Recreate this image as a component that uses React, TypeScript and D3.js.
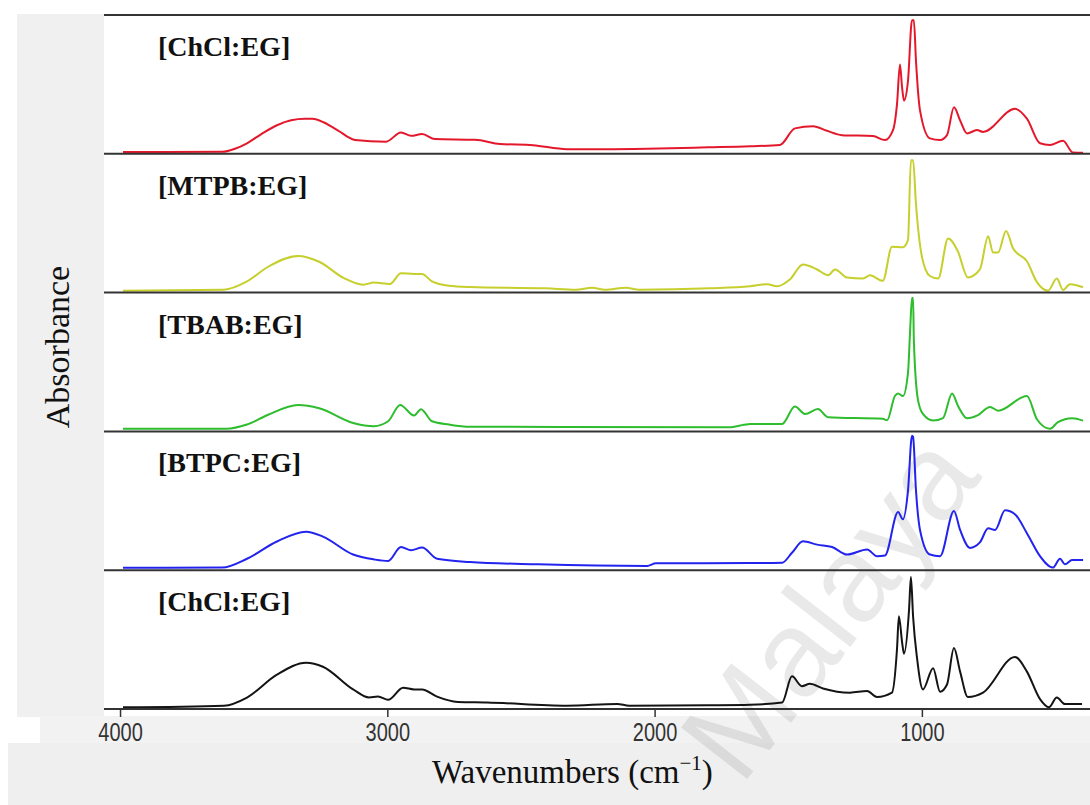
import { useEffect, useRef } from "react";
import * as d3 from "d3";

const labels = ["[ChCl:EG]", "[MTPB:EG]", "[TBAB:EG]", "[BTPC:EG]", "[ChCl:EG]"];
const colors = ["#e3182b", "#c6cf2c", "#2dbd2d", "#2323ee", "#141414"];
const tickValues = [4000, 3000, 2000, 1000];

// [wavenumber, relative absorbance]
const chclTop = [
  [3989, 0.005], [3618, 0.007], [3570, 0.03], [3525, 0.07], [3470, 0.14], [3413, 0.203], [3360, 0.24],
  [3308, 0.251], [3280, 0.25], [3241, 0.227], [3210, 0.195], [3177, 0.155], [3150, 0.12], [3121, 0.094],
  [3005, 0.082], [2949, 0.149], [2911, 0.125], [2870, 0.138], [2822, 0.101], [2672, 0.096], [2578, 0.065],
  [2455, 0.056], [2328, 0.027], [2186, 0.027], [2028, 0.03], [1800, 0.04], [1643, 0.048], [1531, 0.058],
  [1475, 0.18], [1407, 0.196], [1355, 0.162], [1299, 0.13], [1183, 0.123], [1138, 0.094], [1108, 0.167],
  [1093, 0.36], [1082, 0.65], [1074, 0.48], [1067, 0.384], [1052, 0.529], [1037, 0.976], [1030, 0.976],
  [1022, 0.674], [1007, 0.312], [970, 0.106], [932, 0.094], [906, 0.13], [880, 0.335], [857, 0.239],
  [831, 0.143], [794, 0.167], [771, 0.154], [652, 0.324], [607, 0.251], [558, 0.07], [521, 0.058],
  [472, 0.089], [435, 0.002], [397, 0],
];

const mtpb = [
  [3989, 0.007], [3611, 0.014], [3525, 0.075], [3446, 0.183], [3334, 0.263], [3255, 0.22], [3162, 0.099],
  [3091, 0.051], [3050, 0.067], [2990, 0.056], [2949, 0.135], [2900, 0.13], [2870, 0.13], [2833, 0.075],
  [2769, 0.043], [2691, 0.034], [2406, 0.024], [2294, 0.014], [2234, 0.029], [2186, 0.014], [2107, 0.029],
  [2058, 0.014], [1793, 0.024], [1643, 0.039], [1579, 0.055], [1542, 0.039], [1493, 0.091], [1445, 0.2],
  [1392, 0.163], [1351, 0.12], [1325, 0.163], [1280, 0.104], [1220, 0.096], [1194, 0.12], [1146, 0.079],
  [1112, 0.331], [1071, 0.327], [1052, 0.379], [1041, 0.967], [1033, 0.967], [1022, 0.643], [1000, 0.259],
  [970, 0.115], [939, 0.096], [902, 0.391], [865, 0.295], [828, 0.104], [783, 0.163], [752, 0.408],
  [734, 0.288], [715, 0.288], [685, 0.446], [659, 0.319], [607, 0.223], [569, 0.068], [528, 0.007],
  [495, 0.096], [472, 0.012], [446, 0.055], [397, 0.032],
];

const tbab = [
  [3989, 0.012], [3603, 0.012], [3525, 0.043], [3446, 0.115], [3334, 0.187], [3255, 0.163], [3128, 0.055],
  [3050, 0.031], [2997, 0.067], [2952, 0.187], [2900, 0.11], [2874, 0.156], [2833, 0.067], [2769, 0.043],
  [2691, 0.027], [1714, 0.024], [1666, 0.041], [1643, 0.048], [1523, 0.048], [1475, 0.176], [1437, 0.121],
  [1389, 0.157], [1351, 0.097], [1146, 0.085], [1130, 0.075], [1101, 0.253], [1089, 0.272], [1071, 0.253],
  [1052, 0.422], [1044, 0.735], [1037, 0.975], [1033, 0.975], [1030, 0.663], [1015, 0.229], [996, 0.121],
  [958, 0.072], [921, 0.09], [887, 0.272], [865, 0.181], [831, 0.09], [790, 0.113], [745, 0.173],
  [715, 0.145], [607, 0.253], [569, 0.08], [521, 0.012], [491, 0.061], [438, 0.09], [397, 0.072],
];

const btpc = [
  [3989, 0.01], [3618, 0.012], [3525, 0.077], [3413, 0.204], [3304, 0.276], [3241, 0.24], [3128, 0.108],
  [3050, 0.072], [2997, 0.06], [2949, 0.163], [2911, 0.139], [2870, 0.16], [2814, 0.077], [2691, 0.053],
  [2436, 0.036], [2028, 0.024], [1995, 0.043], [1643, 0.045], [1523, 0.048], [1486, 0.121], [1445, 0.205],
  [1392, 0.181], [1336, 0.164], [1280, 0.108], [1205, 0.145], [1168, 0.096], [1138, 0.101], [1089, 0.422],
  [1071, 0.367], [1052, 0.578], [1037, 0.983], [1033, 0.975], [1022, 0.578], [1007, 0.289], [970, 0.108],
  [932, 0.096], [880, 0.429], [857, 0.289], [820, 0.157], [783, 0.197], [752, 0.301], [726, 0.289],
  [689, 0.434], [652, 0.405], [607, 0.265], [558, 0.096], [510, 0.012], [483, 0.077], [465, 0.036],
  [438, 0.067], [397, 0.067],
];

const chclBottom = [
  [3989, 0.005], [3611, 0.017], [3525, 0.077], [3413, 0.245], [3304, 0.333], [3241, 0.304], [3128, 0.137],
  [3068, 0.077], [3035, 0.084], [2997, 0.06], [2941, 0.149], [2900, 0.137], [2870, 0.137], [2814, 0.084],
  [2736, 0.045], [2627, 0.041], [2328, 0.017], [2140, 0.03], [2095, 0.017], [1800, 0.02], [1643, 0.024],
  [1523, 0.041], [1486, 0.233], [1449, 0.161], [1419, 0.178], [1370, 0.144], [1269, 0.113], [1205, 0.125],
  [1168, 0.081], [1112, 0.113], [1093, 0.437], [1086, 0.676], [1074, 0.484], [1067, 0.4], [1048, 0.724],
  [1041, 0.964], [1033, 0.676], [1018, 0.365], [996, 0.137], [958, 0.293], [932, 0.12], [906, 0.173],
  [880, 0.441], [857, 0.268], [828, 0.081], [771, 0.113], [652, 0.376], [607, 0.268], [558, 0.065],
  [525, 0.005], [495, 0.077], [465, 0.029], [401, 0.029],
];

const spectra = [chclTop, mtpb, tbab, btpc, chclBottom];

const FtirChart = () => {
  const chartRef = useRef(null);

  useEffect(() => {
    const width = 1090;
    const height = 805;
    const plot = { left: 104, right: 1090, top: 15, bottom: 709 };

    const svg = d3
      .select(chartRef.current)
      .append("svg")
      .attr("width", width)
      .attr("height", height)
      .style("display", "block");

    const xScale = d3.scaleLinear().domain([4060, 371]).range([plot.left, plot.right]);
    const panelScale = d3.scaleLinear().domain([0, spectra.length]).range([plot.top, plot.bottom]);

    // grey page areas around the plot
    svg.append("rect").attr("width", width).attr("height", height).attr("fill", "#fff");
    svg.append("rect").attr("x", 17).attr("y", 14).attr("width", 87).attr("height", 703).attr("fill", "#f0f0f0");
    svg.append("rect").attr("x", 40).attr("y", 716).attr("width", 1050).attr("height", 28).attr("fill", "#f2f2f2");
    svg.append("rect").attr("x", 8).attr("y", 743).attr("width", 1082).attr("height", 62).attr("fill", "#efefef");

    // watermark
    svg
      .append("text")
      .attr("transform", "translate(862,632) rotate(-52)")
      .attr("text-anchor", "middle")
      .style("font-family", "'Liberation Sans', Arial, sans-serif")
      .style("font-size", "122px")
      .style("fill", "#000")
      .style("fill-opacity", 0.085)
      .text("Malaya");

    svg
      .append("clipPath")
      .attr("id", "plot-clip")
      .append("rect")
      .attr("x", plot.left)
      .attr("y", plot.top)
      .attr("width", plot.right - plot.left)
      .attr("height", plot.bottom - plot.top);

    const g = svg.append("g").attr("clip-path", "url(#plot-clip)");

    spectra.forEach((data, i) => {
      const yScale = d3
        .scaleLinear()
        .domain([0, 1])
        .range([panelScale(i + 1) - 1, panelScale(i) + 2]);

      const line = d3
        .line()
        .x((d) => xScale(d[0]))
        .y((d) => yScale(d[1]))
        .curve(d3.curveMonotoneX);

      g.append("path")
        .datum(data)
        .attr("d", line)
        .attr("fill", "none")
        .attr("stroke", colors[i])
        .attr("stroke-width", 2)
        .attr("stroke-linejoin", "round");

      svg
        .append("text")
        .attr("x", 158)
        .attr("y", panelScale(i) + 41)
        .style("font-family", "'Liberation Serif', 'Times New Roman', serif")
        .style("font-weight", "bold")
        .style("font-size", "28px")
        .style("fill", "#111")
        .text(labels[i]);
    });

    // panel separators
    d3.range(spectra.length + 1).forEach((i) => {
      svg
        .append("line")
        .attr("x1", plot.left)
        .attr("x2", plot.right)
        .attr("y1", panelScale(i))
        .attr("y2", panelScale(i))
        .attr("stroke", "#333")
        .attr("stroke-width", 2);
    });

    const axis = svg
      .append("g")
      .attr("transform", `translate(0,${plot.bottom})`)
      .call(d3.axisBottom(xScale).tickValues(tickValues).tickSize(8).tickFormat(d3.format("d")));

    axis.select(".domain").remove();
    axis.selectAll(".tick line").attr("stroke", "#333").attr("stroke-width", 1.5);
    axis
      .selectAll(".tick text")
      .attr("y", 32)
      .attr("dy", 0)
      .attr("transform", "scale(0.8,1)")
      .style("font-family", "'Liberation Sans', Arial, sans-serif")
      .style("font-size", "25px")
      .style("fill", "#333");

    const title = svg
      .append("text")
      .attr("x", 432)
      .attr("y", 783)
      .style("font-family", "'Liberation Serif', 'Times New Roman', serif")
      .style("font-size", "33px")
      .style("fill", "#111");
    title.append("tspan").text("Wavenumbers (cm");
    title.append("tspan").attr("dy", -13).style("font-size", "21px").text("\u22121");
    title.append("tspan").attr("dy", 13).text(")");

    svg
      .append("text")
      .attr("transform", "translate(69,347) rotate(-90)")
      .attr("text-anchor", "middle")
      .style("font-family", "'Liberation Serif', 'Times New Roman', serif")
      .style("font-size", "34px")
      .style("fill", "#111")
      .text("Absorbance");

    return () => {
      svg.remove();
    };
  }, []);

  return <div ref={chartRef} style={{ position: "absolute", left: 0, top: 0 }}></div>;
};

export default function App() {
  return <FtirChart />;
}
